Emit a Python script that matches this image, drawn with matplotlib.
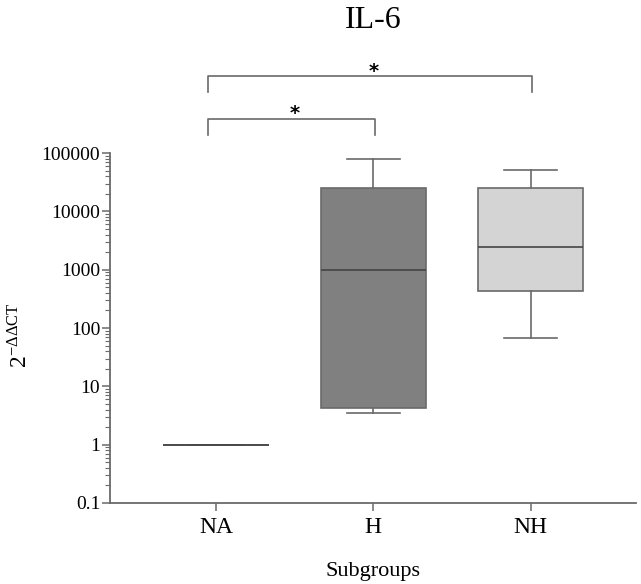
import matplotlib
matplotlib.use("Agg")
import matplotlib.pyplot as plt
import numpy as np

# ── data ─────────────────────────────────────────────────────────────────────
groups = ["NA", "H", "NH"]
whisker_low = [1.0, 3.5, 68.0]
q1 = [1.0, 4.3, 430.0]
median = [1.0, 1000.0, 2450.0]
q3 = [1.0, 25000.0, 25000.0]
whisker_high = [1.0, 78000.0, 51000.0]
box_colors = ["#ffffff", "#808080", "#d4d4d4"]

ytick_values = [0.1, 1, 10, 100, 1000, 10000, 100000]
ytick_labels = ["0.1", "1", "10", "100", "1000", "10000", "100000"]

# significance brackets: (left group, right group, height in data units)
brackets = [(0, 1, 3.9e5), (0, 2, 2.1e6)]

plt.rcParams["font.family"] = ["Liberation Serif", "DejaVu Serif"]
plt.rcParams["mathtext.fontset"] = "stix"

EDGE = "#6a6a6a"

fig = plt.figure(figsize=(6.41, 5.84), dpi=100)
ax = fig.add_axes([0.1716, 0.1387, 0.8204, 0.5993])

stats = [
    dict(whislo=whisker_low[i], q1=q1[i], med=median[i], q3=q3[i],
         whishi=whisker_high[i], fliers=[])
    for i in range(len(groups))
]
pos = np.arange(len(groups))
art = ax.bxp(stats, positions=pos, widths=0.67, patch_artist=True,
             showfliers=False,
             boxprops=dict(edgecolor=EDGE, linewidth=1.2),
             whiskerprops=dict(color=EDGE, linewidth=1.2),
             capprops=dict(color=EDGE, linewidth=1.2),
             medianprops=dict(color="#444444", linewidth=1.2))
for patch, c in zip(art["boxes"], box_colors):
    patch.set_facecolor(c)
# NA group is just a flat line at 1
art["boxes"][0].set_facecolor("none")

ax.set_yscale("log")
ax.set_ylim(0.1, 100000)
ax.set_xlim(-0.675, 2.67)
ax.set_yticks(ytick_values)
ax.set_yticklabels(ytick_labels)
ax.set_xticks(pos)
ax.set_xticklabels(groups)

for s in ["top", "right"]:
    ax.spines[s].set_visible(False)
for s in ["left", "bottom"]:
    ax.spines[s].set_color(EDGE)
    ax.spines[s].set_linewidth(1.3)

ax.tick_params(axis="y", which="major", length=6, width=1.1, color=EDGE,
               labelsize=14, pad=1)
ax.tick_params(axis="y", which="minor", length=3.5, width=0.8, color=EDGE)
ax.tick_params(axis="x", length=6, width=1.1, color=EDGE, labelsize=17, pad=4)

ax.set_xlabel("Subgroups", fontsize=16)
ax.xaxis.set_label_coords(0.5, -0.17)
ax.set_ylabel(r"2$^{\mathregular{-\Delta\Delta CT}}$", fontsize=17)
ax.yaxis.set_label_coords(-0.148, 0.48)

fig.text(0.582, 0.965, "IL-6", ha="center", va="center", fontsize=23)

# ── significance brackets ────────────────────────────────────────────────────
for a, b, h in brackets:
    leg = h / 1.9
    ax.plot([a - 0.05, a - 0.05, b + 0.01, b + 0.01], [leg, h, h, leg],
            color=EDGE, linewidth=1.2, clip_on=False)
    ax.text((a + b) / 2, h * 1.2, "*", ha="center", va="center",
            fontsize=14, fontweight="bold", family="DejaVu Sans")

fig.savefig("out.png", dpi=100)
